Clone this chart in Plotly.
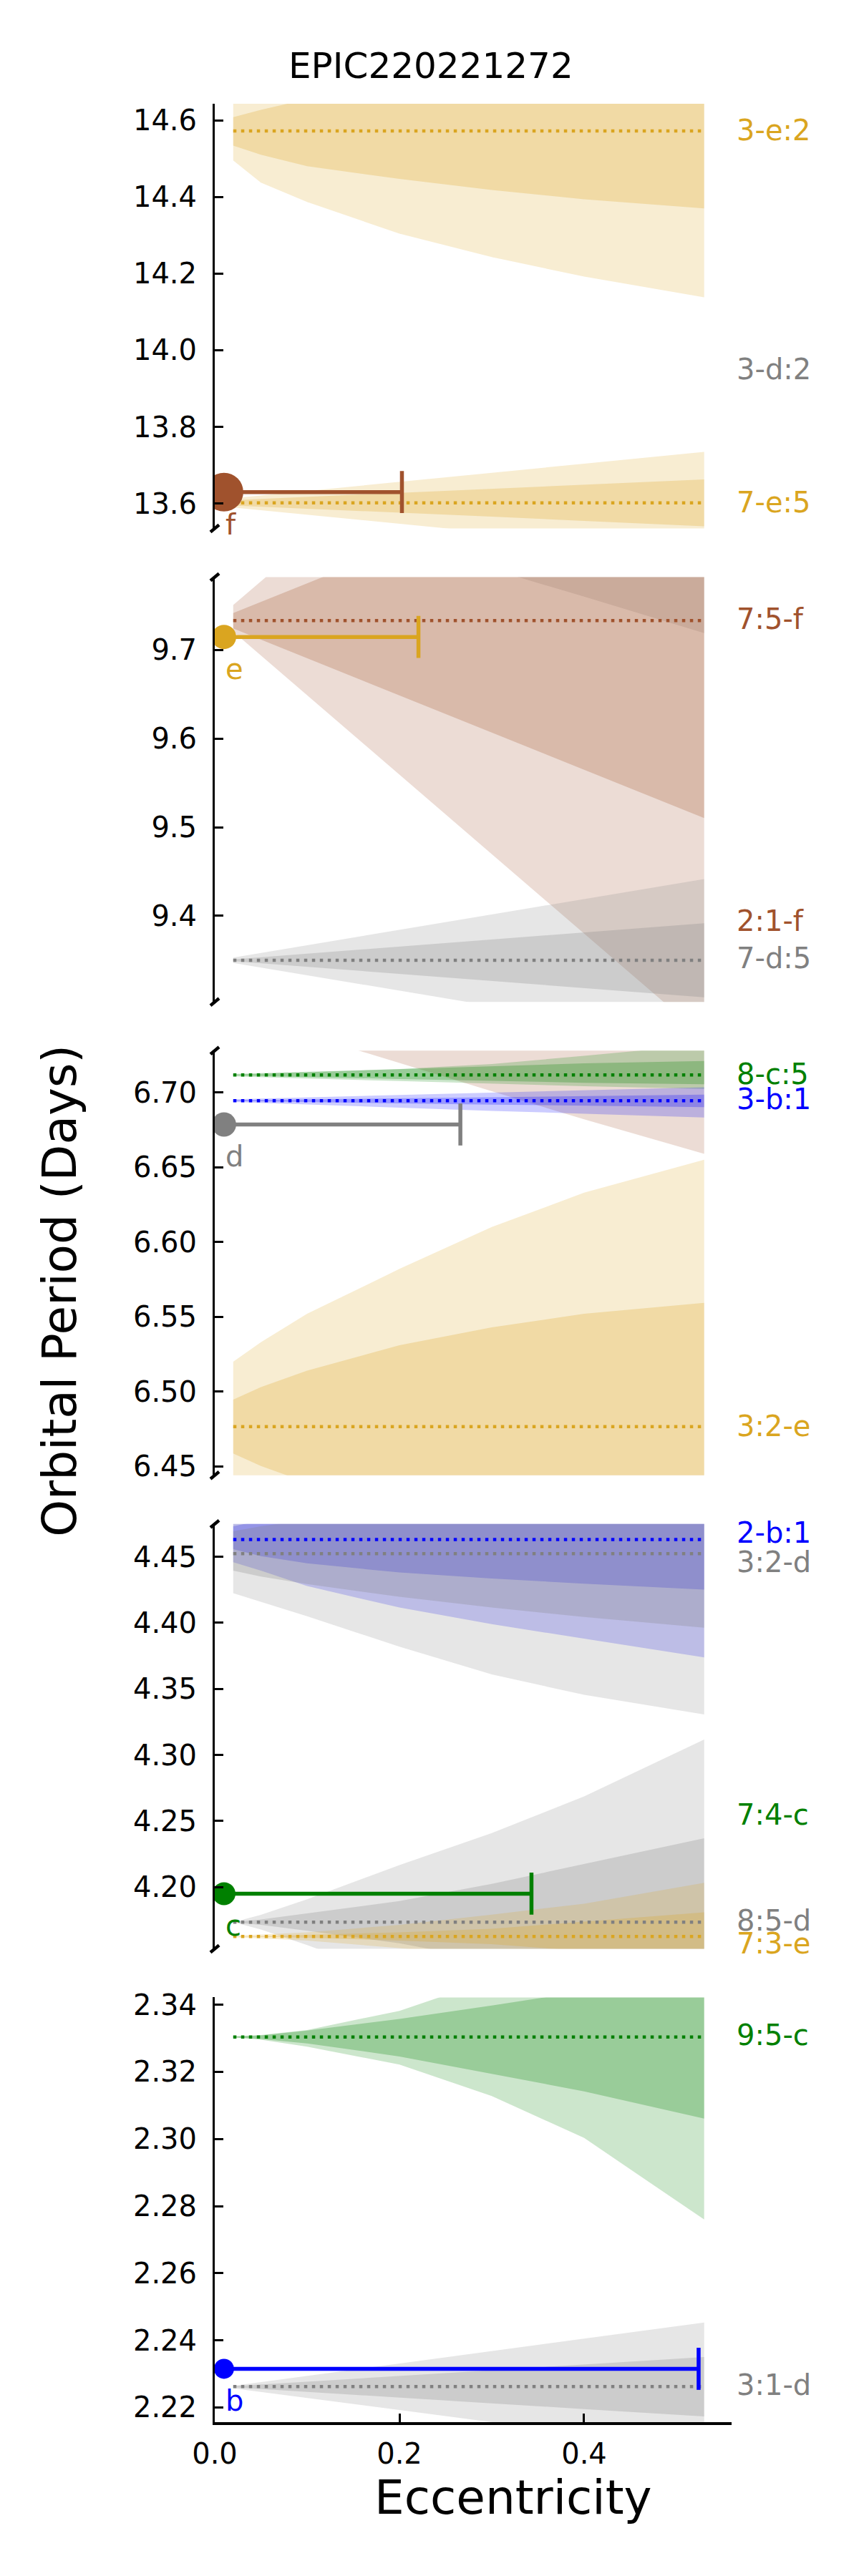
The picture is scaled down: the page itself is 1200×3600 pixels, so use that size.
import plotly.graph_objects as go
from plotly.subplots import make_subplots

ECC = [0.02, 0.05, 0.1, 0.2, 0.3, 0.4, 0.53]
ECC_LINE = [0.02, 0.53]

# planets (top panel to bottom panel)
PLANETS = ['f', 'e', 'd', 'c', 'b']
PLANET_PERIOD = [13.630, 9.7146, 6.6786, 4.1951, 2.2315]
PLANET_ECC = [0.01, 0.01, 0.01, 0.01, 0.01]
PLANET_ECC_ERR = [0.1927, 0.2106, 0.256, 0.333, 0.514]

# resonances: period and the outer / inner width of each band
P_3E2 = 14.572
LO_OUT_3E2 = [14.495, 14.437, 14.387, 14.304, 14.243, 14.192, 14.138]
LO_IN_3E2 = [14.534, 14.510, 14.480, 14.447, 14.418, 14.394, 14.370]
HI_IN_3E2 = [14.608, 14.627, 14.655, 14.70, 14.75, 14.80, 14.85]
HI_OUT_3E2 = [14.70, 14.75, 14.80, 14.85, 14.90, 14.95, 15.00]

P_7E5 = 13.602
LO_OUT_7E5 = [13.590, 13.583, 13.571, 13.547, 13.524, 13.500, 13.469]
LO_IN_7E5 = [13.595, 13.592, 13.587, 13.576, 13.566, 13.555, 13.541]
HI_IN_7E5 = [13.609, 13.612, 13.617, 13.628, 13.638, 13.649, 13.663]
HI_OUT_7E5 = [13.614, 13.621, 13.633, 13.657, 13.680, 13.704, 13.735]

P_3D2 = 10.02
LO_OUT_3D2 = [9.879, 9.870, 9.854, 9.823, 9.791, 9.760, 9.719]
LO_IN_3D2 = [9.96, 9.955, 9.948, 9.935, 9.92, 9.905, 9.885]
HI_IN_3D2 = [10.08, 10.085, 10.092, 10.105, 10.12, 10.135, 10.155]
HI_OUT_3D2 = [10.16, 10.17, 10.186, 10.217, 10.249, 10.28, 10.32]

P_75F = 9.733
LO_OUT_75F = [9.7206, 9.6937, 9.6489, 9.5593, 9.4697, 9.3801, 9.2636]
LO_IN_75F = [9.7242, 9.7116, 9.6907, 9.6488, 9.6068, 9.5649, 9.5103]
HI_IN_75F = [9.7416, 9.754, 9.775, 9.817, 9.859, 9.901, 9.956]
HI_OUT_75F = [9.7506, 9.777, 9.822, 9.911, 10.0, 10.09, 10.2]

P_7D5 = 9.350
LO_OUT_7D5 = [9.347, 9.3418, 9.3331, 9.3157, 9.2984, 9.281, 9.2584]
LO_IN_7D5 = [9.349, 9.3466, 9.3426, 9.3346, 9.3267, 9.3187, 9.3083]
HI_IN_7D5 = [9.351, 9.3534, 9.3574, 9.3654, 9.3733, 9.3813, 9.3917]
HI_OUT_7D5 = [9.353, 9.3582, 9.3669, 9.3843, 9.4016, 9.419, 9.4416]

P_21F = 6.815
LO_OUT_21F = [6.7536, 6.748, 6.7385, 6.7197, 6.7008, 6.682, 6.659]
LO_IN_21F = [6.785, 6.782, 6.777, 6.767, 6.757, 6.747, 6.737]
HI_IN_21F = [6.845, 6.848, 6.853, 6.863, 6.873, 6.883, 6.893]
HI_OUT_21F = [6.876, 6.882, 6.891, 6.910, 6.929, 6.948, 6.971]

P_8C5 = 6.7117
LO_OUT_8C5 = [6.7108, 6.7102, 6.7093, 6.7076, 6.7059, 6.7042, 6.7024]
LO_IN_8C5 = [6.7113, 6.711, 6.7103, 6.709, 6.7077, 6.7065, 6.7055]
HI_IN_8C5 = [6.712, 6.7125, 6.7135, 6.7155, 6.7175, 6.7195, 6.721]
HI_OUT_8C5 = [6.7124, 6.7128, 6.7138, 6.7156, 6.719, 6.7245, 6.732]

P_3B1 = 6.6945
LO_OUT_3B1 = [6.6937, 6.693, 6.6919, 6.6898, 6.6877, 6.6857, 6.6833]
LO_IN_3B1 = [6.6942, 6.6939, 6.6935, 6.6927, 6.6919, 6.6911, 6.6902]
HI_IN_3B1 = [6.6948, 6.695, 6.6954, 6.6961, 6.6968, 6.6976, 6.6985]
HI_OUT_3B1 = [6.6955, 6.696, 6.6967, 6.6983, 6.6999, 6.7014, 6.7035]

P_32E = 6.4766
LO_OUT_32E = [6.4332, 6.4202, 6.4012, 6.3712, 6.3432, 6.3202, 6.2982]
LO_IN_32E = [6.4586, 6.4502, 6.4392, 6.4222, 6.4102, 6.4012, 6.3939]
HI_IN_32E = [6.4946, 6.503, 6.514, 6.531, 6.543, 6.552, 6.5593]
HI_OUT_32E = [6.520, 6.533, 6.552, 6.582, 6.610, 6.633, 6.655]

P_2B1 = 4.4630
LO_OUT_2B1 = [4.4459, 4.4395, 4.4278, 4.4116, 4.399, 4.3882, 4.3738]
LO_IN_2B1 = [4.4558, 4.4504, 4.445, 4.4381, 4.4336, 4.4296, 4.4251]
HI_IN_2B1 = [4.4730, 4.4775, 4.483, 4.49, 4.495, 4.50, 4.505]
HI_OUT_2B1 = [4.4765, 4.48, 4.485, 4.495, 4.505, 4.515, 4.53]

P_32D = 4.4523
LO_OUT_32D = [4.4224, 4.416, 4.405, 4.382, 4.361, 4.3455, 4.3307]
LO_IN_32D = [4.4395, 4.435, 4.4293, 4.4197, 4.4116, 4.4044, 4.3963]
HI_IN_32D = [4.4693, 4.473, 4.478, 4.486, 4.493, 4.50, 4.508]
HI_OUT_32D = [4.4760, 4.481, 4.488, 4.50, 4.51, 4.52, 4.535]

P_85D = 4.1735
LO_OUT_85D = [4.1735, 4.168, 4.1562, 4.1303, 4.1061, 4.0783, 4.0353]
LO_IN_85D = [4.1734, 4.1715, 4.167, 4.1575, 4.1445, 4.1295, 4.11]
HI_IN_85D = [4.1736, 4.1755, 4.18, 4.1895, 4.2025, 4.2175, 4.237]
HI_OUT_85D = [4.1735, 4.179, 4.1908, 4.2167, 4.2409, 4.2687, 4.3117]

P_73E = 4.1627
LO_OUT_73E = [4.1622, 4.1612, 4.1596, 4.1539, 4.1462, 4.1379, 4.1221]
LO_IN_73E = [4.1627, 4.1624, 4.1617, 4.1596, 4.1569, 4.1516, 4.1444]
HI_IN_73E = [4.1627, 4.163, 4.1637, 4.1658, 4.1685, 4.1738, 4.181]
HI_OUT_73E = [4.1632, 4.1642, 4.1658, 4.1715, 4.1792, 4.1875, 4.2033]

P_95C = 2.3304
LO_OUT_95C = [2.3303, 2.3296, 2.3275, 2.3222, 2.3128, 2.3003, 2.2760]
LO_IN_95C = [2.3303, 2.3298, 2.3285, 2.3246, 2.3194, 2.3142, 2.3061]
HI_IN_95C = [2.3305, 2.3309, 2.3323, 2.3358, 2.3398, 2.3440, 2.350]
HI_OUT_95C = [2.3306, 2.331, 2.3325, 2.3382, 2.3475, 2.358, 2.373]

P_31D = 2.2262
LO_OUT_31D = [2.2257, 2.2246, 2.2228, 2.2192, 2.2156, 2.212, 2.2073]
LO_IN_31D = [2.226, 2.2255, 2.2246, 2.2229, 2.2212, 2.2195, 2.2173]
HI_IN_31D = [2.2263, 2.2268, 2.2277, 2.2294, 2.2311, 2.2328, 2.235]
HI_OUT_31D = [2.2264, 2.2275, 2.2294, 2.2331, 2.2368, 2.2405, 2.2453]

# resonance labels on the right of each panel
LABEL_TEXT = ['3-e:2', '3-d:2', '7-e:5', '7:5-f', '2:1-f', '7-d:5', '8-c:5', '3-b:1',
              '3:2-e', '2-b:1', '3:2-d', '7:4-c', '8:5-d', '7:3-e', '9:5-c', '3:1-d']
LABEL_PLANET = ['e', 'd', 'e', 'f', 'f', 'd', 'c', 'b', 'e', 'b', 'd', 'c', 'd', 'e', 'c', 'd']
LABEL_Y = [14.574, 13.951, 13.603, 9.735, 9.394, 9.352, 6.7124, 6.6957,
           6.4768, 4.4682, 4.4459, 4.2546, 4.1745, 4.1575, 2.3309, 2.2266]
LABEL_PANEL = [1, 1, 1, 2, 2, 2, 3, 3, 3, 4, 4, 4, 4, 4, 5, 5]

# y range of each broken-axis panel
Y_RANGES = [[13.535, 14.643], [9.303, 9.782], [6.444, 6.728], [4.1534, 4.4748], [2.2156, 2.3422]]
Y_DTICK = [0.2, 0.1, 0.05, 0.05, 0.02]
Y_FORMAT = ['.1f', '.1f', '.2f', '.2f', '.2f']

# (panel, planet colour, period, bounds)  -- built from the arrays above
RESONANCES = [
    (1, 'e', P_3E2, LO_OUT_3E2, LO_IN_3E2, HI_IN_3E2, HI_OUT_3E2),
    (1, 'e', P_7E5, LO_OUT_7E5, LO_IN_7E5, HI_IN_7E5, HI_OUT_7E5),
    (2, 'd', P_3D2, LO_OUT_3D2, LO_IN_3D2, HI_IN_3D2, HI_OUT_3D2),
    (2, 'f', P_75F, LO_OUT_75F, LO_IN_75F, HI_IN_75F, HI_OUT_75F),
    (2, 'd', P_7D5, LO_OUT_7D5, LO_IN_7D5, HI_IN_7D5, HI_OUT_7D5),
    (3, 'f', P_21F, LO_OUT_21F, LO_IN_21F, HI_IN_21F, HI_OUT_21F),
    (3, 'c', P_8C5, LO_OUT_8C5, LO_IN_8C5, HI_IN_8C5, HI_OUT_8C5),
    (3, 'b', P_3B1, LO_OUT_3B1, LO_IN_3B1, HI_IN_3B1, HI_OUT_3B1),
    (3, 'e', P_32E, LO_OUT_32E, LO_IN_32E, HI_IN_32E, HI_OUT_32E),
    (4, 'b', P_2B1, LO_OUT_2B1, LO_IN_2B1, HI_IN_2B1, HI_OUT_2B1),
    (4, 'd', P_32D, LO_OUT_32D, LO_IN_32D, HI_IN_32D, HI_OUT_32D),
    (4, 'd', P_85D, LO_OUT_85D, LO_IN_85D, HI_IN_85D, HI_OUT_85D),
    (4, 'e', P_73E, LO_OUT_73E, LO_IN_73E, HI_IN_73E, HI_OUT_73E),
    (5, 'c', P_95C, LO_OUT_95C, LO_IN_95C, HI_IN_95C, HI_OUT_95C),
    (5, 'd', P_31D, LO_OUT_31D, LO_IN_31D, HI_IN_31D, HI_OUT_31D),
]

# styling
COLORS = {'b': (0, 0, 255), 'c': (0, 128, 0), 'd': (128, 128, 128),
          'e': (218, 165, 32), 'f': (160, 82, 45)}
MARKER_SIZE = {'f': 54, 'e': 34, 'd': 34, 'c': 32, 'b': 28}
FONT = 'DejaVu Sans'


def rgb(k, a=1.0):
    r, g, b = COLORS[k]
    return 'rgba(%d,%d,%d,%s)' % (r, g, b, a)


fig = make_subplots(rows=5, cols=1, vertical_spacing=68.0 / 3240)

# shaded resonance widths
for panel, k, period, lo_out, lo_in, hi_in, hi_out in RESONANCES:
    for lo, hi, a in [(lo_out, hi_out, 0.2), (lo_in, hi_in, 0.25)]:
        fig.add_trace(go.Scatter(x=ECC + ECC[::-1], y=lo + hi[::-1],
                                 fill='toself', fillcolor=rgb(k, a),
                                 line=dict(width=0), mode='lines',
                                 hoverinfo='skip', showlegend=False),
                      row=panel, col=1)

# exact commensurability lines
for panel, k, period, lo_out, lo_in, hi_in, hi_out in RESONANCES:
    fig.add_trace(go.Scatter(x=ECC_LINE, y=[period, period], mode='lines',
                             line=dict(color=rgb(k), width=4.5, dash='4.5px,6.5px'),
                             hoverinfo='skip', showlegend=False),
                  row=panel, col=1)

# planets with eccentricity upper limits (bar, cap, then the planet itself)
for i, p in enumerate(PLANETS):
    e_max = PLANET_ECC[i] + PLANET_ECC_ERR[i]
    fig.add_trace(go.Scatter(x=[PLANET_ECC[i], e_max], y=[PLANET_PERIOD[i]] * 2,
                             mode='lines', line=dict(color=rgb(p), width=5.5),
                             showlegend=False), row=i + 1, col=1)
    fig.add_trace(go.Scatter(x=[e_max], y=[PLANET_PERIOD[i]], mode='markers',
                             marker=dict(symbol='line-ns', size=42,
                                         line=dict(color=rgb(p), width=5.5)),
                             showlegend=False), row=i + 1, col=1)
    fig.add_trace(go.Scatter(x=[PLANET_ECC[i]], y=[PLANET_PERIOD[i]], mode='markers',
                             marker=dict(color=rgb(p), size=MARKER_SIZE[p]),
                             showlegend=False), row=i + 1, col=1)
    fig.add_annotation(x=PLANET_ECC[i], y=PLANET_PERIOD[i], xref='x%d' % (i + 1),
                       yref='y%d' % (i + 1), text=p, showarrow=False,
                       xanchor='left', yanchor='middle', yshift=-45,
                       font=dict(family=FONT, size=40, color=rgb(p)))

for txt, k, y, panel in zip(LABEL_TEXT, LABEL_PLANET, LABEL_Y, LABEL_PANEL):
    fig.add_annotation(x=1.0068, y=y, xref='paper', yref='y%d' % panel, text=txt,
                       showarrow=False, xanchor='left', yanchor='middle',
                       font=dict(family=FONT, size=40, color=rgb(k)))

for i in range(5):
    fig.update_yaxes(row=i + 1, col=1, range=Y_RANGES[i], dtick=Y_DTICK[i],
                     tickformat=Y_FORMAT[i], showline=True, linewidth=3,
                     linecolor='black', ticks='inside', ticklen=12, tickwidth=3,
                     tickcolor='black', showgrid=False, zeroline=False,
                     ticklabelstandoff=14,
                     tickfont=dict(family=FONT, size=40, color='black'))
    fig.update_xaxes(row=i + 1, col=1, range=[0, 0.5597], showgrid=False,
                     zeroline=False, showline=False, showticklabels=False, ticks='')

fig.update_xaxes(row=5, col=1, showline=True, linewidth=3.5, linecolor='black',
                 ticks='inside', ticklen=12, tickwidth=3, tickcolor='black',
                 showticklabels=True, tickvals=[0, 0.2, 0.4], tickformat='.1f',
                 ticklabelstandoff=6,
                 tickfont=dict(family=FONT, size=40, color='black'))

# broken axis marks
dx, dy = 6.0 / 722, 5.0 / 3240
breaks = [fig.layout.yaxis.domain[0]]
for name in ['yaxis2', 'yaxis3', 'yaxis4']:
    breaks += list(fig.layout[name].domain)
for yb in breaks:
    fig.add_shape(type='line', xref='paper', yref='paper', x0=-dx, x1=dx,
                  y0=yb - dy, y1=yb + dy, line=dict(color='black', width=4.5))

fig.add_annotation(x=0.4183, y=1.01636, xref='paper', yref='paper',
                   xanchor='center', yanchor='middle',
                   text='EPIC220221272', showarrow=False,
                   font=dict(family=FONT, size=50, color='black'))
fig.add_annotation(x=0.5776, y=-0.0327, xref='paper', yref='paper',
                   xanchor='center', yanchor='middle',
                   text='Eccentricity', showarrow=False,
                   font=dict(family=FONT, size=66, color='black'))
fig.add_annotation(x=-0.2992, y=0.488, xref='paper', yref='paper',
                   xanchor='center', yanchor='middle',
                   text='Orbital Period (Days)', showarrow=False, textangle=-90,
                   font=dict(family=FONT, size=66, color='black'))

# the page body adds an 8 px offset, so the margins are shifted to compensate
fig.update_layout(width=1200, height=3600, showlegend=False,
                  margin=dict(l=292, r=186, t=137, b=223),
                  plot_bgcolor='white', paper_bgcolor='white',
                  font=dict(family=FONT, color='black'))

fig.write_html("out.html")
